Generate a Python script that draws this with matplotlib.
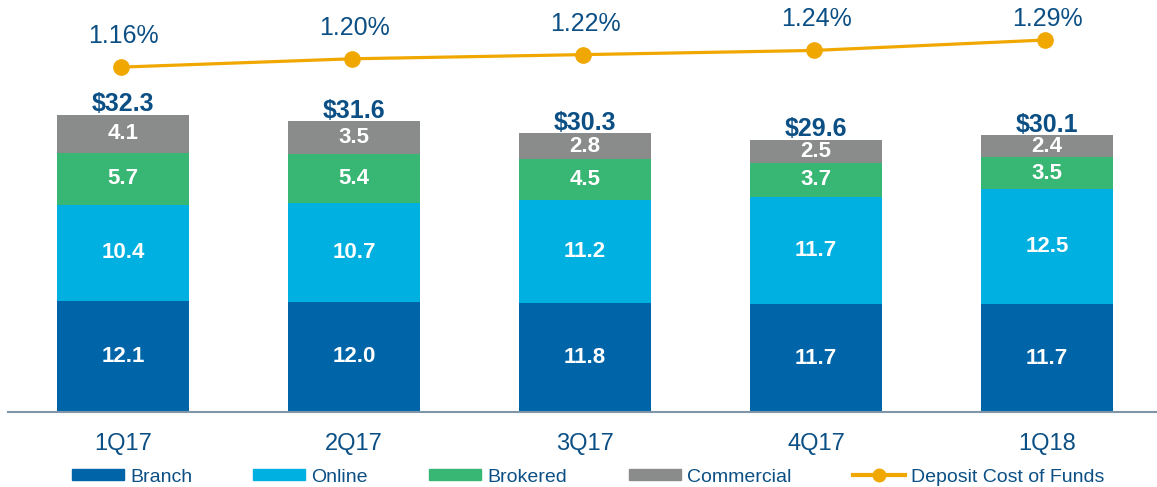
import numpy as np
import matplotlib
matplotlib.use("Agg")
from matplotlib import pyplot as plt
from matplotlib.lines import Line2D
from matplotlib.patches import Patch

plt.rcParams['font.family'] = ['Liberation Sans', 'DejaVu Sans']

quarters = ["1Q17", "2Q17", "3Q17", "4Q17", "1Q18"]
branch = [12.1, 12.0, 11.8, 11.7, 11.7]
online = [10.4, 10.7, 11.2, 11.7, 12.5]
brokered = [5.7, 5.4, 4.5, 3.7, 3.5]
commercial = [4.1, 3.5, 2.8, 2.5, 2.4]
totals = [32.3, 31.6, 30.3, 29.6, 30.1]
cost_of_funds = [1.16, 1.20, 1.22, 1.24, 1.29]

names = ["Branch", "Online", "Brokered", "Commercial"]
colors = ["#0064A8", "#00B0E0", "#38B673", "#8A8C8C"]
line_color = "#F0A800"
text_color = "#0B4F84"

fig = plt.figure(figsize=(11.57, 4.87), dpi=100)
ax = fig.add_axes([0.007, 0.154, 0.993, 0.846])

x = np.arange(len(quarters))
width = 0.571
bottom = np.zeros(len(quarters))
for vals, col in zip([branch, online, brokered, commercial], colors):
    vals = np.array(vals)
    ax.bar(x, vals, width, bottom=bottom, color=col, edgecolor="none")
    for xi, b, v in zip(x, bottom, vals):
        ax.text(xi, b + v / 2, f"{v:.1f}", ha="center", va="center",
                color="white", fontsize=16, fontweight="bold")
    bottom = bottom + vals

for xi, top, t in zip(x, bottom, totals):
    ax.annotate(f"${t:.1f}", (xi, top), xytext=(0, -1), textcoords="offset points",
                ha="center", va="bottom", color=text_color, fontsize=18,
                fontweight="bold")

ax.set_xlim(-0.498, 4.476)
ax.set_ylim(0, 44.8)
ax.set_xticks(x)
ax.set_xticklabels(quarters, fontsize=17, color=text_color)
ax.tick_params(axis="x", length=0, pad=15)
ax.set_yticks([])
for s in ["top", "right", "left"]:
    ax.spines[s].set_visible(False)
ax.spines["bottom"].set_color("#8096A8")
ax.spines["bottom"].set_linewidth(1.5)

ax2 = ax.twinx()
ax2.set_ylim(-0.494, 1.482)
ax2.plot(x - 0.01, cost_of_funds, color=line_color, lw=2.3, marker="o", markersize=11)
# labels sit above the markers but are held down under the top edge
for xi, v in zip(x, cost_of_funds):
    ax2.text(xi, min(v + 0.149, 1.391), f"{v:.2f}%", ha="center", va="center",
             color=text_color, fontsize=18)
ax2.axis("off")

# legend entries placed one by one to match the spacing
handles = [Patch(color=c) for c in colors]
handles.append(Line2D([], [], color=line_color, lw=3, marker="o", markersize=9))
labels = names + ["Deposit Cost of Funds"]
lefts = [72, 253, 429, 629, 853]
for h, lab, lx in zip(handles, labels, lefts):
    leg = fig.legend([h], [lab], loc="center left",
                     bbox_to_anchor=(lx / 1157, 1 - 477 / 487),
                     frameon=False, fontsize=14, handlelength=2.68,
                     handleheight=0.47, handletextpad=0.3, borderpad=0,
                     borderaxespad=0)
    for t in leg.get_texts():
        t.set_color(text_color)

fig.savefig("out.png", dpi=100)
